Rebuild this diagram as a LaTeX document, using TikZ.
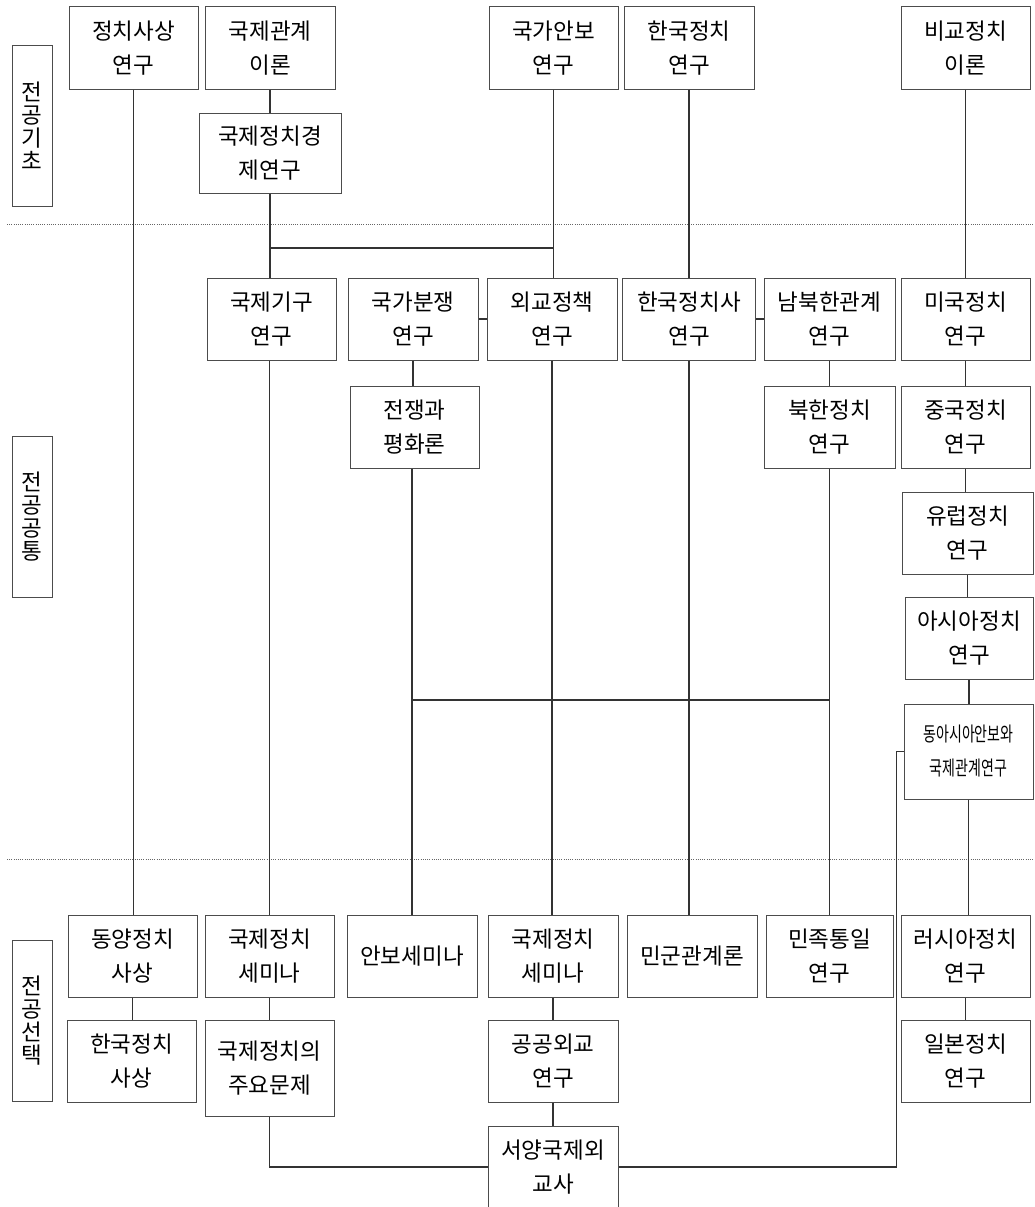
\documentclass[tikz,border=0pt]{standalone}
\usepackage{fontspec}
\setmainfont{Noto Sans CJK KR}
\newfontfamily\narrowfont[FakeStretch=0.7]{Noto Sans CJK KR}
\newcommand\coursefont{\fontsize{22.5}{34}\selectfont}
\newcommand\areafont{\fontsize{22.5}{23}\selectfont}

\begin{document}
\begin{tikzpicture}[x=1pt,y=-1pt,
            course/.style={draw=black!70,line width=1pt,align=center,inner sep=0pt,minimum width=129pt,minimum height=82pt,font=\coursefont},
            area/.style={draw=black!70,line width=1pt,align=center,inner sep=0pt,minimum width=40pt,minimum height=161pt,font=\areafont},
            link/.style={draw=black!80,line width=1.1pt},
            divider/.style={draw=black!60,line width=0.8pt,dash pattern=on 1pt off 1.2pt}]

            \useasboundingbox (0,0) rectangle (1034,1207);

            % areas and dividers
            \node[area] (basic) at (32,126) {전\\공\\기\\초};
            \node[area] (common) at (32,516.5) {전\\공\\공\\통};
            \node[area] (elective) at (32,1020.5) {전\\공\\선\\택};
            \draw[divider] (7,224) -- (1034,224);
            \draw[divider] (7,859) -- (1034,859);

            % basic courses
            \node[course] (thought) at (133.5,48) {정치사상\\연구};
            \node[course,minimum width=130pt] (irtheory) at (270,48) {국제관계\\이론};
            \node[course] (security) at (553.5,48) {국가안보\\연구};
            \node[course,minimum width=130pt] (korpol) at (689,48) {한국정치\\연구};
            \node[course] (comppol) at (965.5,48) {비교정치\\이론};
            \node[course,minimum width=142pt,minimum height=80pt] (ipe) at (270,153) {국제정치경\\제연구};

            % common courses
            \node[course] (intlorg) at (271.5,319) {국제기구\\연구};
            \node[course,minimum width=130pt] (conflict) at (413,319) {국가분쟁\\연구};
            \node[course,minimum width=130pt] (foreign) at (552,319) {외교정책\\연구};
            \node[course,minimum width=133pt] (korhist) at (689,319) {한국정치사\\연구};
            \node[course,minimum width=131pt] (interkor) at (829.5,319) {남북한관계\\연구};
            \node[course] (uspol) at (965.5,319) {미국정치\\연구};
            \node[course] (warpeace) at (414.5,427) {전쟁과\\평화론};
            \node[course,minimum width=131pt] (nkpol) at (829.5,427) {북한정치\\연구};
            \node[course] (chinapol) at (965.5,427) {중국정치\\연구};
            \node[course,minimum width=131pt] (eupol) at (967.5,533) {유럽정치\\연구};
            \node[course,minimum width=128pt] (asiapol) at (969,638.5) {아시아정치\\연구};
            \node[course,minimum height=95pt,font={\narrowfont\fontsize{20}{34}\selectfont}] (eastasia) at (968.5,751.5) {동아시아안보와\\국제관계연구};

            % elective courses
            \node[course] (eastthought) at (132.5,956) {동양정치\\사상};
            \node[course] (irsem) at (269.5,956) {국제정치\\세미나};
            \node[course,minimum width=130pt] (secsem) at (412,956) {안보세미나};
            \node[course,minimum width=130pt] (ipsem) at (553,956) {국제정치\\세미나};
            \node[course,minimum width=130pt] (civmil) at (692,956) {민군관계론};
            \node[course,minimum width=127pt] (unify) at (829.5,956) {민족통일\\연구};
            \node[course] (russia) at (965.5,956) {러시아정치\\연구};
            \node[course] (korthought) at (131.5,1061) {한국정치\\사상};
            \node[course,minimum height=96pt] (ipissues) at (269.5,1068) {국제정치의\\주요문제};
            \node[course,minimum width=130pt] (pubdip) at (553,1061) {공공외교\\연구};
            \node[course] (japan) at (965.5,1061) {일본정치\\연구};
            \node[course,minimum width=130pt] (diphist) at (553,1167) {서양국제외\\교사};

            \coordinate (topjoin) at (0,248);
            \coordinate (warjoin) at (0,700);

            % connectors
            \draw[link] (thought.south) -- (thought.south |- eastthought.north);
            \draw[link] (irtheory.south) -- (irtheory.south |- ipe.north);
            \draw[link] (ipe.south) -- (ipe.south |- intlorg.north);
            \draw[link] (ipe.south |- topjoin) -- (security.south |- topjoin);
            \draw[link] (security.south) -- (security.south |- foreign.north);
            \draw[link] (korpol.south) -- (korpol.south |- korhist.north);
            \draw[link] (comppol.south) -- (comppol.south |- uspol.north);
            \draw[link] (conflict.east) -- (foreign.west);
            \draw[link] (korhist.east) -- (interkor.west);
            \draw[link] (conflict.south) -- (conflict.south |- warpeace.north);
            \draw[link] (interkor.south) -- (interkor.south |- nkpol.north);
            \draw[link] (uspol.south) -- (uspol.south |- chinapol.north);
            \draw[link] (chinapol.south) -- (chinapol.south |- eupol.north);
            \draw[link] (eupol.south) -- (eupol.south |- asiapol.north);
            \draw[link] (asiapol.south) -- (asiapol.south |- eastasia.north);
            \draw[link] (eastasia.south) -- (eastasia.south |- russia.north);
            \draw[link] (russia.south) -- (russia.south |- japan.north);
            \draw[link] (irsem.north |- intlorg.south) -- (irsem.north);
            \draw[link] (secsem.north |- warpeace.south) -- (secsem.north);
            \draw[link] (foreign.south) -- (foreign.south |- ipsem.north);
            \draw[link] (korhist.south) -- (korhist.south |- civmil.north);
            \draw[link] (nkpol.south) -- (nkpol.south |- unify.north);
            \draw[link] (secsem.north |- warjoin) -- (nkpol.south |- warjoin);
            \draw[link] (eastthought.south) -- (eastthought.south |- korthought.north);
            \draw[link] (irsem.south) -- (irsem.south |- ipissues.north);
            \draw[link] (ipsem.south) -- (ipsem.south |- pubdip.north);
            \draw[link] (pubdip.south) -- (pubdip.south |- diphist.north);
            \draw[link] (ipissues.south) |- (diphist.west);
            \draw[link] (eastasia.west) -- ++(-7,0) |- (diphist.east);
        \end{tikzpicture}
\end{document}
